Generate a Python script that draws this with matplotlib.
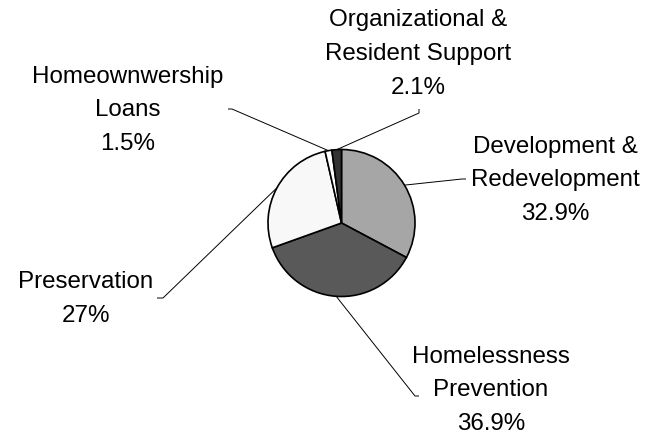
import numpy as np
import matplotlib
matplotlib.use("Agg")
import matplotlib.pyplot as plt

# Budget shares (%), drawn clockwise from 12 o'clock
categories = [
    "Development &\nRedevelopment",
    "Homelessness\nPrevention",
    "Preservation",
    "Homeownwership\nLoans",
    "Organizational &\nResident Support",
]
values = [32.9, 36.9, 27.0, 1.5, 2.1]
value_labels = ["32.9%", "36.9%", "27%", "1.5%", "2.1%"]
colors = ["#a6a6a6", "#595959", "#f8f8f8", "#ffffff", "#333333"]

W, H = 646, 444
plt.rcParams["font.family"] = ["Liberation Sans", "DejaVu Sans"]

fig = plt.figure(figsize=(W / 100, H / 100), dpi=100)
ax = fig.add_axes([0, 0, 1, 1])

cx, cy, r = 341.5, H - 223, 73.5
wedges, _ = ax.pie(
    values, colors=colors, startangle=90, counterclock=False,
    center=(cx, cy), radius=r, frame=True,
    wedgeprops=dict(edgecolor="black", linewidth=1.2),
)
ax.set_xlim(0, W)
ax.set_ylim(0, H)
ax.set_aspect("equal")
ax.axis("off")

# label block centre (x, y of middle line, measured from the top),
# leader elbow and tick end
layout = [
    dict(text=(555, 180), elbow=(462, 179), tick=(466, 179)),
    dict(text=(491, 390), elbow=(415, 396), tick=(419, 396)),
    dict(text=(86, 299), elbow=(163, 298), tick=(157, 298)),
    dict(text=(128, 110), elbow=(232, 109), tick=(228, 109)),
    dict(text=(418, 54), elbow=(419, 113), tick=(419, 109)),
]

fs = 17.4
for w, name, val, lay in zip(wedges, categories, value_labels, layout):
    mid = np.deg2rad((w.theta1 + w.theta2) / 2)
    sx, sy = cx + r * np.cos(mid), cy + r * np.sin(mid)
    ex, ey = lay["elbow"]
    tx, ty = lay["tick"]
    ax.plot([sx, ex, tx], [sy, H - ey, H - ty], color="black", lw=0.7,
            solid_capstyle="butt", zorder=1)
    lines = name.split("\n") + [val]
    n = len(lines)
    xc, ym = lay["text"]
    step = 33.5
    for i, ln in enumerate(lines):
        y = ym + (i - (n - 1) / 2) * step
        ax.text(xc, H - y, ln, ha="center", va="center", fontsize=fs,
                color="black")

fig.savefig("out.png", dpi=100)
